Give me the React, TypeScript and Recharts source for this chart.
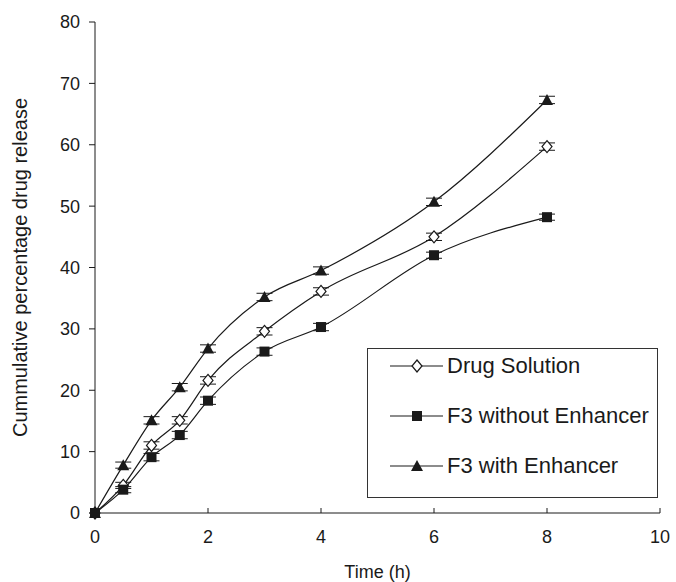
import { LineChart, Line, XAxis, YAxis, ErrorBar } from "recharts";

const TIME = [0, 0.5, 1, 1.5, 2, 3, 4, 6, 8];
const DRUG_SOLUTION = [0, 4.5, 11, 15.1, 21.6, 29.6, 36.1, 45, 59.7];
const F3_WITHOUT = [0, 3.8, 9.1, 12.7, 18.3, 26.3, 30.3, 42, 48.2];
const F3_WITH = [0, 7.8, 15.1, 20.5, 26.8, 35.2, 39.5, 50.7, 67.3];
const ERR_DRUG = [0, 0.5, 0.6, 0.6, 0.6, 0.6, 0.6, 0.6, 0.6];
const ERR_WITHOUT = [0, 0.5, 0.6, 0.6, 0.6, 0.6, 0.6, 0.5, 0.5];
const ERR_WITH = [0, 0.5, 0.6, 0.6, 0.6, 0.6, 0.6, 0.6, 0.6];
const X_TICKS = [0, 2, 4, 6, 8, 10];
const Y_TICKS = [0, 10, 20, 30, 40, 50, 60, 70, 80];

const data = TIME.map((t, i) => ({
  time: t,
  drug: DRUG_SOLUTION[i],
  drugErr: ERR_DRUG[i],
  without: F3_WITHOUT[i],
  withoutErr: ERR_WITHOUT[i],
  withE: F3_WITH[i],
  withErr: ERR_WITH[i],
}));

const FONT = "'Liberation Sans', Arial, sans-serif";
const INK = "#1a1a1a";

function Diamond({ cx, cy }: { cx?: number; cy?: number }) {
  if (cx == null || cy == null) return null;
  return (
    <polygon
      points={`${cx},${cy - 6} ${cx + 5},${cy} ${cx},${cy + 6} ${cx - 5},${cy}`}
      fill="#fff"
      stroke={INK}
      strokeWidth={1.2}
    />
  );
}

function Square({ cx, cy }: { cx?: number; cy?: number }) {
  if (cx == null || cy == null) return null;
  return <rect x={cx - 5} y={cy - 5} width={10} height={10} fill={INK} />;
}

function Triangle({ cx, cy }: { cx?: number; cy?: number }) {
  if (cx == null || cy == null) return null;
  return <polygon points={`${cx},${cy - 6} ${cx + 6},${cy + 5} ${cx - 6},${cy + 5}`} fill={INK} />;
}

// x ticks point up into the plot, so line + label are drawn here
function XTick({ x, y, payload }: any) {
  return (
    <g>
      <line x1={x} y1={y} x2={x} y2={y - 5} stroke={INK} strokeWidth={1} />
      <text x={x} y={y + 30} textAnchor="middle" fill={INK} fontSize={18} fontFamily={FONT}>
        {payload.value}
      </text>
    </g>
  );
}

const LEGEND_ITEMS = [
  { label: "Drug Solution", Mark: Diamond },
  { label: "F3 without Enhancer", Mark: Square },
  { label: "F3 with Enhancer", Mark: Triangle },
];

function LegendBox() {
  return (
    <div
      style={{
        position: "absolute",
        left: 367,
        top: 348,
        width: 291,
        height: 150,
        border: "1px solid #333",
        background: "#fff",
        fontFamily: FONT,
        fontSize: 22,
        color: INK,
        boxSizing: "border-box",
      }}
    >
      {LEGEND_ITEMS.map(({ label, Mark }, i) => (
        <div
          key={label}
          style={{ position: "absolute", left: 0, top: 3 + i * 50, height: 28, display: "flex", alignItems: "center" }}
        >
          <svg width={79} height={20} style={{ flexShrink: 0 }}>
            <line x1={22} y1={10} x2={75} y2={10} stroke={INK} strokeWidth={1.2} />
            <Mark cx={49} cy={10} />
          </svg>
          <span style={{ whiteSpace: "nowrap" }}>{label}</span>
        </div>
      ))}
    </div>
  );
}

export default function App() {
  return (
    <div style={{ position: "absolute", left: 0, top: 0, width: 676, height: 582, background: "#fff" }}>
      <LineChart
        width={676}
        height={582}
        data={data}
        margin={{ top: 22, right: 16, bottom: 0, left: 0 }}
      >
        <XAxis
          type="number"
          dataKey="time"
          domain={[0, 10]}
          ticks={X_TICKS}
          height={69}
          stroke={INK}
          tickLine={false}
          tickSize={0}
          tickMargin={0}
          tick={<XTick />}
          label={{ value: "Time (h)", position: "insideBottom", offset: 4, fill: INK, fontSize: 18, fontFamily: FONT }}
        />
        <YAxis
          type="number"
          domain={[0, 80]}
          ticks={Y_TICKS}
          width={95}
          stroke={INK}
          tickSize={6}
          tickMargin={9}
          tick={{ fill: INK, fontSize: 18, fontFamily: FONT }}
          label={{
            value: "Cummulative percentage drug release",
            angle: -90,
            position: "insideLeft",
            offset: 20,
            fill: INK,
            fontSize: 20,
            fontFamily: FONT,
            style: { textAnchor: "middle" },
          }}
        />
        <Line
          dataKey="withE"
          name="F3 with Enhancer"
          type="monotone"
          stroke={INK}
          strokeWidth={1.2}
          dot={<Triangle />}
          activeDot={false}
          isAnimationActive={false}
        >
          <ErrorBar dataKey="withErr" direction="y" width={8} stroke={INK} strokeWidth={1} />
        </Line>
        <Line
          dataKey="drug"
          name="Drug Solution"
          type="monotone"
          stroke={INK}
          strokeWidth={1.2}
          dot={<Diamond />}
          activeDot={false}
          isAnimationActive={false}
        >
          <ErrorBar dataKey="drugErr" direction="y" width={8} stroke={INK} strokeWidth={1} />
        </Line>
        <Line
          dataKey="without"
          name="F3 without Enhancer"
          type="monotone"
          stroke={INK}
          strokeWidth={1.2}
          dot={<Square />}
          activeDot={false}
          isAnimationActive={false}
        >
          <ErrorBar dataKey="withoutErr" direction="y" width={8} stroke={INK} strokeWidth={1} />
        </Line>
      </LineChart>
      <LegendBox />
    </div>
  );
}
